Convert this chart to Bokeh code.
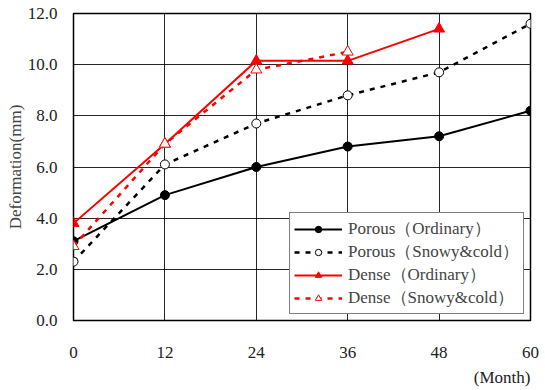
from bokeh.plotting import figure
from bokeh.models import Range1d, FixedTicker, Legend, LegendItem, Title
from bokeh.embed import file_html
from bokeh.resources import INLINE

months = [0, 12, 24, 36, 48, 60]
porous_ord = [3.1, 4.9, 6.0, 6.8, 7.2, 8.2]
porous_snow = [2.3, 6.1, 7.7, 8.8, 9.7, 11.6]
dense_months = [0, 12, 24, 36, 48]
dense_ord = [3.8, 6.9, 10.15, 10.15, 11.4]
dense_snow_months = [0, 12, 24, 36]
dense_snow = [2.9, 6.9, 9.8, 10.5]

y_ticks = [0, 2, 4, 6, 8, 10, 12]
y_tick_labels = ["0.0", "2.0", "4.0", "6.0", "8.0", "10.0", "12.0"]
x_tick_labels = ["0", "12", "24", "36", "48", "60"]

FONT = "Liberation Serif"

p = figure(frame_width=457, frame_height=307, output_backend="svg", toolbar_location=None,
           x_range=Range1d(0, 60), y_range=Range1d(0, 12),
           min_border_left=73, min_border_top=13, min_border_right=12, min_border_bottom=40)
p.outline_line_color = "black"
p.outline_line_width = 1.5
p.background_fill_color = "white"
p.border_fill_color = "white"

p.xaxis.ticker = FixedTicker(ticks=months)
p.yaxis.ticker = FixedTicker(ticks=y_ticks)
p.xaxis.major_label_overrides = {m: s for m, s in zip(months, x_tick_labels)}
p.yaxis.major_label_overrides = {t: s for t, s in zip(y_ticks, y_tick_labels)}
for ax in (p.xaxis, p.yaxis):
    ax.major_tick_line_color = None
    ax.minor_tick_line_color = None
    ax.axis_line_color = None
    ax.major_label_text_font = FONT
    ax.major_label_text_font_size = "17px"
    ax.major_label_text_color = "#222222"
p.xaxis.major_label_standoff = 20
p.yaxis.major_label_standoff = 10
p.yaxis.axis_label = "Deformation(mm)"
p.yaxis.axis_label_text_font = FONT
p.yaxis.axis_label_text_font_style = "normal"
p.yaxis.axis_label_text_font_size = "17px"
p.yaxis.axis_label_standoff = 0

p.grid.grid_line_color = "black"
p.grid.grid_line_alpha = 0.85
p.grid.grid_line_width = 1

r1 = p.line(months, porous_ord, line_color="black", line_width=2)
m1 = p.scatter(months, porous_ord, marker="circle", size=9, fill_color="black", line_color="black")
r2 = p.line(months, porous_snow, line_color="black", line_width=2.5, line_dash="5 6")
m2 = p.scatter(months, porous_snow, marker="circle", size=9, fill_color="white", line_color="black")
r3 = p.line(dense_months, dense_ord, line_color="red", line_width=2)
m3 = p.scatter(dense_months, dense_ord, marker="triangle", size=11, fill_color="red", line_color="red")
r4 = p.line(dense_snow_months, dense_snow, line_color="red", line_width=2.5, line_dash="5 6")
m4 = p.scatter(dense_snow_months, dense_snow, marker="triangle", size=11, fill_color="white", line_color="red")

legend = Legend(items=[
    LegendItem(label="Porous（Ordinary）", renderers=[r1, m1]),
    LegendItem(label="Porous（Snowy&cold）", renderers=[r2, m2]),
    LegendItem(label="Dense（Ordinary）", renderers=[r3, m3]),
    LegendItem(label="Dense（Snowy&cold）", renderers=[r4, m4]),
], location="bottom_right")
legend.label_text_font = FONT
legend.label_text_font_size = "17px"
legend.label_height = 16
legend.glyph_height = 16
legend.glyph_width = 48
legend.spacing = -5
legend.padding = 4
legend.margin = 6
legend.label_standoff = 6
legend.border_line_color = "black"
legend.border_line_width = 1.5
legend.background_fill_alpha = 1.0
p.add_layout(legend)

p.add_layout(Title(text="(Month)", align="right", text_font=FONT, text_font_size="17px",
                   text_font_style="normal", text_color="#222222"), "below")

open("out.html", "w").write(file_html(p, INLINE))
